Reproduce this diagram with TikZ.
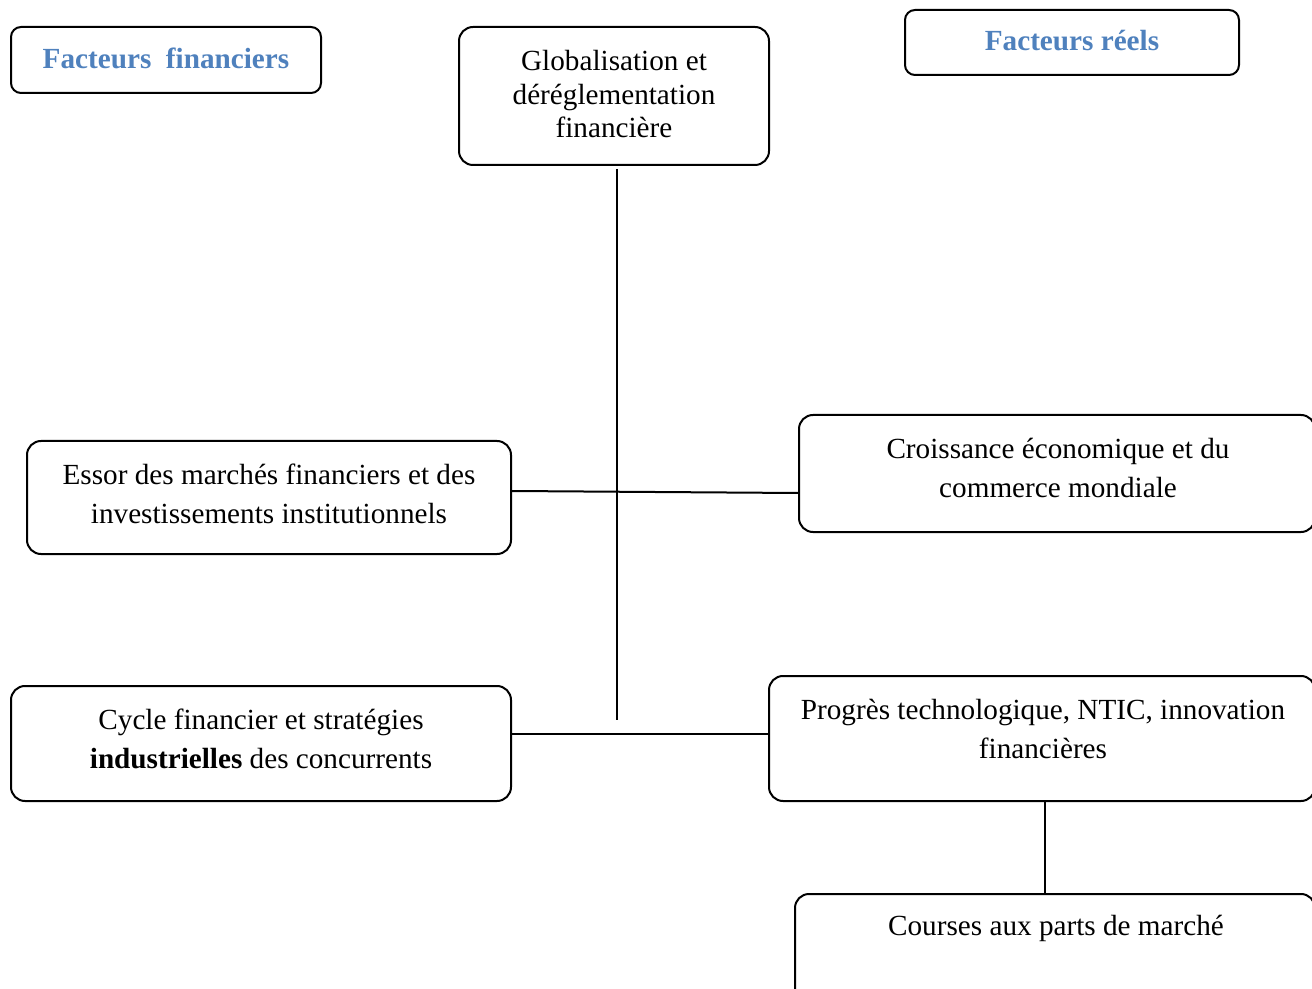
\documentclass[tikz,border=0pt]{standalone}
\usepackage{fontspec}
\setmainfont{Liberation Serif}
\definecolor{titleblue}{HTML}{4F81BD}
\tikzset{
  box/.style={draw=black, line width=1pt, rounded corners=7pt, inner sep=0pt, rectangle},
  tbox/.style={draw=black, line width=1pt, rounded corners=5pt, inner sep=0pt, rectangle},
  txt/.style={inner sep=0pt, align=center, font=\fontsize{14.6}{16.75}\selectfont},
  txtw/.style={inner sep=0pt, align=center, font=\fontsize{14.6}{19.5}\selectfont},
  ttl/.style={inner sep=0pt, align=center, text=titleblue, font=\fontsize{14.6}{17}\selectfont\bfseries},
  conn/.style={draw=black, line width=1pt}
}
\begin{document}
\begin{tikzpicture}[x=0.5pt,y=-0.5pt]
\useasboundingbox (0,0) rectangle (1312,989);
\clip (0,0) rectangle (1312,989);
% boxes
\node[tbox, minimum width=155pt, minimum height=33pt] (fin) at (166,60) {};
\node[tbox, minimum width=167pt, minimum height=32.5pt] (reel) at (1072,42.5) {};
\node[box, minimum width=155pt, minimum height=69pt] (glob) at (614,96) {};
\node[box, minimum width=242pt, minimum height=56.5pt] (essor) at (269,497.5) {};
\node[box, minimum width=258pt, minimum height=58.5pt] (crois) at (1057,473.5) {};
\node[box, minimum width=273pt, minimum height=62.5pt] (prog) at (1042,738.5) {};
\node[box, minimum width=250pt, minimum height=57.5pt] (cycle) at (261,743.5) {};
\node[box, minimum width=260pt, minimum height=58pt] (cour) at (1055,952) {};
% texts
\node[ttl] (finT) at (166,58) {Facteurs\ \ financiers};
\node[ttl] (reelT) at (1072,41) {Facteurs réels};
\node[txt] (globT) at (614,94.5) {Globalisation et\\déréglementation\\financière};
\node[txtw] (essorT) at (269,493.5) {Essor des marchés financiers et des\\investissements institutionnels};
\node[txtw] (croisT) at (1058,467.5) {Croissance économique et du\\commerce mondiale};
\node[txtw] (cycleT) at (261,738.5) {Cycle financier et stratégies\\\textbf{industrielles} des concurrents};
\node[txtw] (progT) at (1043,728.5) {Progrès technologique, NTIC, innovation\\financières};
\node[txtw] (courT) at (1056,928) {Courses aux parts de marché};
% connectors
\coordinate (vend) at (617,720);
\coordinate (lx) at (1045,0);
\draw[conn] ([yshift=-1.5pt]glob.south -| vend) -- (vend);
\draw[conn] ([yshift=3.25pt]essor.east) -- ([yshift=-9.75pt]crois.west);
\draw[conn] ([yshift=4.75pt]cycle.east) -- ([yshift=2.25pt]prog.west);
\draw[conn] (prog.south -| lx) -- (cour.north -| lx);
\end{tikzpicture}
\end{document}
